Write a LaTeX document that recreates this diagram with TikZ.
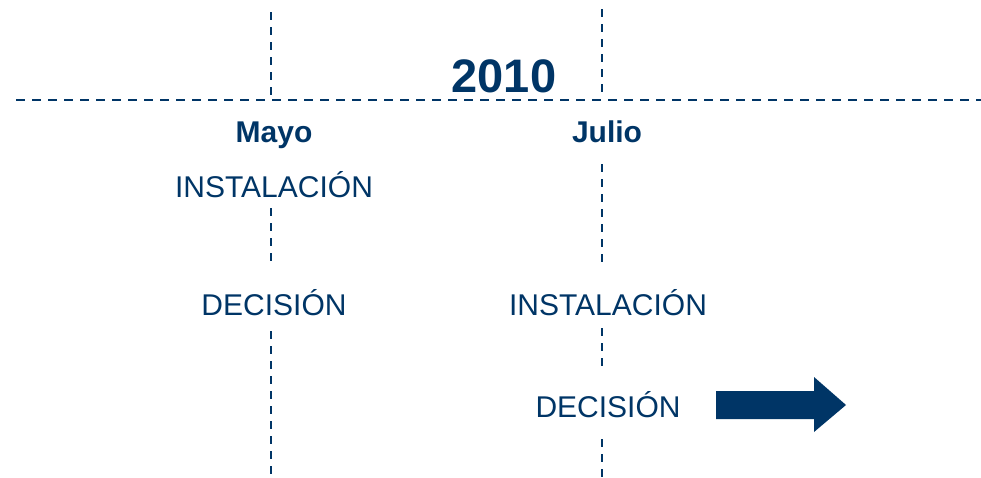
\documentclass[tikz,border=0pt]{standalone}
\usepackage{fontspec}
\setmainfont{Liberation Sans}
\definecolor{navy}{RGB}{0,53,102}
\begin{document}
\begin{tikzpicture}[x=1pt,y=-1pt,
  dline/.style={draw=navy,line width=2.4pt,dash pattern=on 8pt off 7pt},
  hline/.style={draw=navy,line width=2.8pt,dash pattern=on 9pt off 7pt},
  lbl/.style={text=navy,font=\fontsize{30}{34}\selectfont,anchor=base,inner sep=0pt},
  blbl/.style={lbl,font=\fontsize{30}{34}\selectfont\bfseries},
  year/.style={lbl,font=\fontsize{47}{52}\selectfont\bfseries}]
\useasboundingbox (0,0) rectangle (981,477);
% timeline
\draw[hline] (16,100) -- (981,100);
% vertical dashed lines, Mayo
\draw[dline] (271,12) -- (271,100);
\draw[dline] (271,208) -- (271,266);
\draw[dline] (271,331) -- (271,477);
% vertical dashed lines, Julio
\draw[dline] (602,9) -- (602,97);
\draw[dline] (602,164) -- (602,267);
\draw[dline] (602,328) -- (602,368);
\draw[dline] (602,439) -- (602,477);
% texts
\node[year] (y) at (504,92) {2010};
\node[blbl] (mayo) at (274,142) {Mayo};
\node[blbl] (julio) at (607,142) {Julio};
\node[lbl] (i1) at (274,197) {INSTALACIÓN};
\node[lbl] (d1) at (274,315) {DECISIÓN};
\node[lbl] (i2) at (608,315) {INSTALACIÓN};
\node[lbl] (d2) at (608,417) {DECISIÓN};
% arrow
\fill[navy] (716,391) -- (814,391) -- (814,377) -- (846,405) -- (814,432) -- (814,419) -- (716,419) -- cycle;
\end{tikzpicture}
\end{document}
